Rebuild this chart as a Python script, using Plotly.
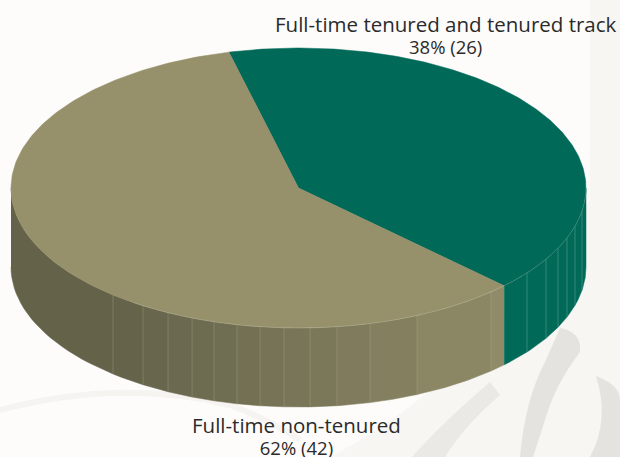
import numpy as np
import plotly.graph_objects as go

# Data
categories = ["Full-time tenured and tenured track", "Full-time non-tenured"]
percents = [38, 62]
counts = [26, 42]
# Angular share each slice occupies on the drawn (foreshortened) disc
drawn_shares = [41.2, 58.8]

# Style / geometry
CX, CY, RX, RY, DEPTH = 298.5, 188.0, 287.5, 140.0, 79.0
START = 104.0
TOP_COLORS = ["#006958", "#96906B"]
TAN_DARK = np.array([0x64, 0x63, 0x4A])
TAN_LIGHT = np.array([0x8F, 0x8A, 0x67])
GREEN_SIDE = "#006958"
FACET_X = [113, 143, 168, 192, 214, 237, 260, 284, 310, 337, 370, 417, 491, 527, 546, 558, 567, 575, 582]


def ell(a):
    a = np.radians(a)
    return CX + RX * np.cos(a), CY - RY * np.sin(a)


fig = go.Figure()
boundary = START - drawn_shares[0] / 100 * 360


def x2ang(x):
    return -np.degrees(np.arccos((x - CX) / RX))


edges = [-180.0] + [x2ang(x) for x in FACET_X] + [0.0]
edges = sorted(set(edges + [boundary]))
for a0, a1 in zip(edges[:-1], edges[1:]):
    ts = np.linspace(a0, a1, 24)
    x, y = ell(ts)
    px = np.r_[x, x[::-1]]
    py = np.r_[y, (y + DEPTH)[::-1]]
    if a1 <= boundary + 1e-6:
        mid = ell((a0 + a1) / 2)[0]
        f = np.clip((mid - 113) / (491 - 113), 0, 1)
        c = TAN_DARK + (TAN_LIGHT - TAN_DARK) * f
        col = "rgb(%d,%d,%d)" % tuple(c)
    else:
        col = GREEN_SIDE
    fig.add_trace(go.Scatter(x=px, y=py, mode="lines", fill="toself", fillcolor=col,
                             line=dict(color=col, width=0.5), hoverinfo="skip", showlegend=False))

for fx in FACET_X:
    a = x2ang(fx)
    x, y = ell(a)
    lc = "rgba(170,205,195,0.45)" if a > boundary else "rgba(190,190,160,0.4)"
    fig.add_trace(go.Scatter(x=[x, x], y=[y, y + DEPTH], mode="lines", line=dict(color=lc, width=0.7),
                             hoverinfo="skip", showlegend=False))

a = START
for i, (s, col) in enumerate(zip(drawn_shares, TOP_COLORS)):
    ts = np.linspace(a, a - s / 100 * 360, 240)
    x, y = ell(ts)
    fig.add_trace(go.Scatter(x=np.r_[CX, x, CX], y=np.r_[CY, y, CY], mode="lines", fill="toself",
                             fillcolor=col, line=dict(color=col, width=0.5),
                             name=categories[i], hoverinfo="name", showlegend=False))
    a -= s / 100 * 360

ts = np.linspace(-125, 0, 200)
x, y = ell(ts)
fig.add_trace(go.Scatter(x=x, y=y, mode="lines", line=dict(color="rgba(215,220,200,0.3)", width=0.7),
                         hoverinfo="skip", showlegend=False))


def label(i, x, y):
    return dict(x=x, y=y, xref="x", yref="y", showarrow=False, align="center",
                text=f"<span style='font-size:20.5px'>{categories[i]}</span><br>"
                     f"<span style='font-size:18.5px'>{percents[i]}% ({counts[i]})</span>",
                font=dict(family="Open Sans", size=17, color="#2b2b2b"),
                xanchor="center", yanchor="middle")


annotations = [label(0, 446, 34), label(1, 296, 435)]

WM = "#E4E3E0"
shapes = [
    dict(type="path", layer="below", fillcolor="rgba(243,242,238,0.6)", line=dict(width=0),
         path="M 590 0 L 620 0 L 620 457 L 330 457 Q 480 380 590 200 Z"),
    dict(type="path", layer="below", fillcolor=WM, line=dict(width=0),
         path="M 560 328 Q 582 332 580 352 Q 555 385 545 420 L 533 457 L 520 457 Q 525 400 545 362 Z"),
    dict(type="path", layer="below", fillcolor="#EAE9E6", line=dict(width=0),
         path="M 490 382 L 500 395 Q 465 425 445 457 L 412 457 Q 440 425 490 382 Z"),
    dict(type="path", layer="below", fillcolor=WM, line=dict(width=0),
         path="M 596 376 Q 620 385 620 400 L 620 457 L 590 457 Q 610 420 596 376 Z"),
    dict(type="path", layer="below", line=dict(color="#F6F4F1", width=6),
         path="M 0 410 Q 120 378 230 405 Q 270 420 300 440"),
]

fig.update_layout(
    width=620, height=457, margin=dict(l=0, r=0, t=0, b=0),
    paper_bgcolor="#FDFCFA", plot_bgcolor="rgba(0,0,0,0)", showlegend=False,
    xaxis=dict(range=[0, 620], visible=False, fixedrange=True),
    yaxis=dict(range=[457, 0], visible=False, fixedrange=True),
    annotations=annotations, shapes=shapes,
)
fig.write_html("out.html", config={"displayModeBar": False},
               post_script="document.body.style.margin='0';document.body.style.overflow='hidden';")
